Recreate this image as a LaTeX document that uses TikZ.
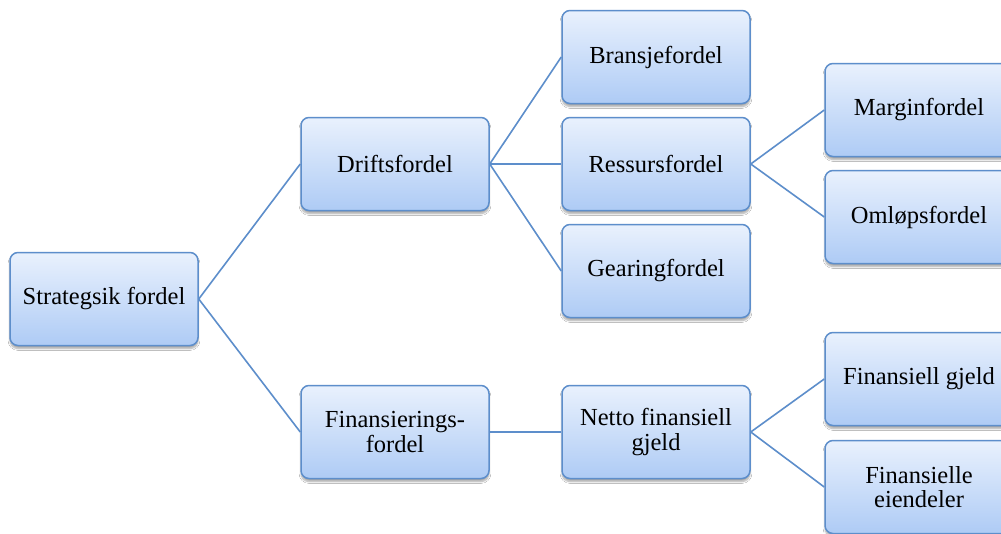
\documentclass[tikz,border=0pt]{standalone}
\usepackage{fontspec}
\setmainfont{Liberation Serif}
\usetikzlibrary{shadows.blur}
\definecolor{boxtop}{HTML}{E9F1FD}
\definecolor{boxbot}{HTML}{AECBF5}
\definecolor{boxline}{HTML}{5D8ECB}
\tikzset{
  box/.style={draw=boxline, line width=1.5pt, rounded corners=8pt,
    top color=boxtop, bottom color=boxbot,
    minimum width=188pt, minimum height=93pt, inner sep=2pt,
    align=center, font=\fontsize{24.5}{24.5}\selectfont,
    blur shadow={shadow xshift=0pt, shadow yshift=-3pt, shadow blur steps=6, shadow opacity=35}},
  link/.style={draw=boxline, line width=1.6pt}
}
\begin{document}
\begin{tikzpicture}[x=1pt,y=-1pt]
\useasboundingbox (0,0) rectangle (1001,533);
\clip (0,0) rectangle (1001,533);
\fill[white] (0,0) rectangle (1001,533);
\node[box] (s)  at (104,299) {Strategsik fordel};
\node[box] (d)  at (395,164) {Driftsfordel};
\node[box] (f)  at (395,432) {Finansierings-\\fordel};
\node[box] (b)  at (656,57)  {Bransjefordel};
\node[box] (r)  at (656,164) {Ressursfordel};
\node[box] (g)  at (656,271) {Gearingfordel};
\node[box] (n)  at (656,432) {Netto finansiell\\gjeld};
\node[box] (m)  at (919,110) {Marginfordel};
\node[box] (o)  at (919,217) {Omløpsfordel};
\node[box] (fg) at (919,379) {Finansiell gjeld};
\node[box] (fe) at (919,487) {Finansielle\\eiendeler};
\draw[link] (s.east) -- (d.west);
\draw[link] (s.east) -- (f.west);
\draw[link] (d.east) -- (b.west);
\draw[link] (d.east) -- (r.west);
\draw[link] (d.east) -- (g.west);
\draw[link] (r.east) -- (m.west);
\draw[link] (r.east) -- (o.west);
\draw[link] (f.east) -- (n.west);
\draw[link] (n.east) -- (fg.west);
\draw[link] (n.east) -- (fe.west);
\end{tikzpicture}
\end{document}
